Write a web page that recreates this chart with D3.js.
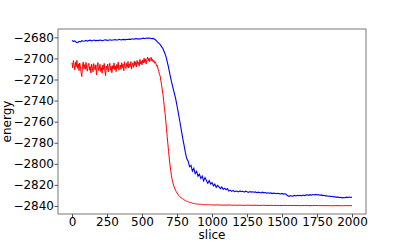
<!DOCTYPE html>
<html>
<head>
<meta charset="utf-8">
<script src="https://cdn.jsdelivr.net/npm/d3@7/dist/d3.min.js"></script>
<style>
  body { margin: 0; background: #fff; }
</style>
</head>
<body>
<div class="chart"></div>
<script>

var blueStep = 10;

var blueEnergy = [
    -2683.0, -2683.9, -2683.4, -2684.6, -2685.1, -2683.8, -2684.3, -2683.2, -2683.7, -2683.5,
    -2682.9, -2683.6, -2683.1, -2682.7, -2683.4, -2683.0, -2682.6, -2683.3, -2682.8, -2683.1,
    -2682.5, -2682.9, -2683.2, -2682.6, -2682.4, -2682.9, -2682.7, -2682.3, -2682.8, -2682.5,
    -2682.4, -2682.1, -2682.7, -2682.3, -2681.9, -2682.5, -2682.2, -2682.0, -2682.4, -2681.8,
    -2682.1, -2681.7, -2681.9, -2681.4, -2681.8, -2681.5, -2681.2, -2681.7, -2681.3, -2681.5,
    -2681.1, -2680.8, -2681.3, -2680.7, -2681.0, -2680.6, -2680.9, -2681.2, -2681.0, -2681.8,
    -2682.7, -2684.3, -2685.6, -2686.9, -2688.8, -2690.9, -2694.2, -2697.6, -2703.1, -2708.8,
    -2715.6, -2721.8, -2727.2, -2732.4, -2737.9, -2744.8, -2752.1, -2759.6, -2767.3, -2775.2,
    -2782.1, -2789.4, -2795.3, -2797.6, -2802.8, -2801.5, -2806.9, -2804.2, -2809.3, -2807.1,
    -2811.7, -2809.8, -2813.9, -2811.6, -2816.2, -2813.1, -2815.8, -2818.4, -2815.9, -2819.2,
    -2817.8, -2820.9, -2819.2, -2822.3, -2820.4, -2821.8, -2823.6, -2821.9, -2824.2, -2823.1,
    -2824.6, -2823.4, -2825.7, -2824.9, -2826.1, -2825.2, -2826.4, -2825.8, -2826.0, -2826.6,
    -2825.7, -2826.4, -2826.1, -2826.9, -2825.9, -2826.5, -2827.1, -2826.3, -2826.8, -2826.5,
    -2827.0, -2826.6, -2827.4, -2826.9, -2827.2, -2827.6, -2826.9, -2827.5, -2827.2, -2827.8,
    -2827.4, -2827.9, -2827.6, -2828.2, -2827.7, -2828.0, -2828.4, -2827.9, -2828.3, -2828.6,
    -2828.1, -2828.7, -2828.4, -2828.9, -2830.3, -2830.8, -2830.1, -2830.7, -2830.4, -2830.0,
    -2830.5, -2829.8, -2830.2, -2829.9, -2830.4, -2829.6, -2830.1, -2829.7, -2829.4, -2829.9,
    -2829.3, -2829.7, -2829.1, -2829.5, -2829.0, -2829.6, -2829.2, -2829.8, -2829.5, -2830.1,
    -2829.8, -2830.4, -2830.3, -2830.7, -2830.5, -2831.2, -2830.8, -2831.4, -2831.3, -2831.8,
    -2831.4, -2832.1, -2831.7, -2832.3, -2831.9, -2832.2, -2831.6, -2832.0, -2831.5, -2831.9,
    -2831.6
];

// Red run, every 5 slices up to 995, then every 20 slices (flat tail)
var redSlices = d3.range(0, 1000, 5).concat(d3.range(1000, 2001, 20));

var redEnergy = [
    -2704.2, -2708.9, -2702.1, -2706.5, -2710.8, -2703.6, -2707.9, -2701.8, -2709.4, -2705.2,
    -2711.6, -2704.3, -2708.1, -2713.4, -2717.2, -2706.8, -2703.5, -2709.7, -2705.9, -2710.3,
    -2703.8, -2709.5, -2712.1, -2706.4, -2704.7, -2711.2, -2707.6, -2713.8, -2705.3, -2709.1,
    -2712.7, -2704.9, -2708.3, -2710.9, -2706.1, -2715.6, -2707.4, -2703.9, -2711.5, -2709.8,
    -2705.6, -2712.4, -2708.7, -2714.1, -2706.3, -2710.5, -2704.8, -2711.9, -2716.4, -2707.2,
    -2710.6, -2705.4, -2712.8, -2708.1, -2704.6, -2711.3, -2707.5, -2713.6, -2706.9, -2709.9,
    -2704.3, -2710.7, -2707.1, -2712.5, -2705.8, -2709.4, -2703.6, -2711.2, -2708.6, -2706.2,
    -2710.4, -2704.1, -2708.8, -2705.5, -2711.7, -2703.2, -2707.9, -2709.6, -2704.7, -2708.3,
    -2702.9, -2709.1, -2705.4, -2707.8, -2703.1, -2710.2, -2706.6, -2704.2, -2708.5, -2702.7,
    -2706.9, -2703.3, -2708.1, -2701.9, -2705.7, -2703.8, -2707.4, -2700.9, -2705.2, -2702.6,
    -2706.1, -2701.4, -2704.3, -2699.8, -2703.9, -2700.6, -2705.2, -2701.1, -2698.7, -2702.4,
    -2699.6, -2703.1, -2700.2, -2698.9, -2702.5, -2700.8, -2703.4, -2701.9, -2704.6, -2703.2,
    -2705.1, -2707.3, -2706.8, -2710.2, -2712.4, -2715.1, -2716.9, -2721.3, -2725.4, -2729.8,
    -2734.6, -2740.2, -2746.9, -2752.4, -2759.3, -2766.8, -2774.1, -2781.2, -2788.5, -2795.4,
    -2801.2, -2806.3, -2810.8, -2814.9, -2817.8, -2820.1, -2821.9, -2823.8, -2825.2, -2826.6,
    -2827.6, -2828.7, -2829.9, -2830.4, -2831.2, -2831.5, -2832.4, -2832.6, -2833.3, -2833.4,
    -2834.2, -2834.6, -2834.8, -2835.3, -2835.6, -2835.7, -2836.2, -2836.1, -2836.6, -2836.7,
    -2837.0, -2836.9, -2837.4, -2837.3, -2837.7, -2837.6, -2838.0, -2837.8, -2838.2, -2838.1,
    -2838.3, -2838.2, -2838.4, -2838.3, -2838.6, -2838.4, -2838.6, -2838.5, -2838.7, -2838.6,
    -2838.8, -2838.7, -2838.8, -2838.7, -2838.9, -2838.8, -2839.0, -2838.8, -2839.0, -2838.9,
    -2839.0, -2839.1, -2838.9, -2839.2, -2839.1, -2839.2, -2839.0, -2839.3, -2839.2, -2839.3,
    -2839.2, -2839.4, -2839.3, -2839.2, -2839.4, -2839.3, -2839.4, -2839.5, -2839.3, -2839.4,
    -2839.5, -2839.4, -2839.5, -2839.4, -2839.6, -2839.5, -2839.4, -2839.6, -2839.5, -2839.6,
    -2839.5, -2839.6, -2839.7, -2839.5, -2839.6, -2839.7, -2839.6, -2839.5, -2839.7, -2839.6,
    -2839.7, -2839.6, -2839.7, -2839.8, -2839.6, -2839.7, -2839.7, -2839.8, -2839.6, -2839.7,
    -2839.7
];

var xTicks = [0, 250, 500, 750, 1000, 1250, 1500, 1750, 2000];
var yTicks = [-2680, -2700, -2720, -2740, -2760, -2780, -2800, -2820, -2840];

var fullWidth = 407, fullHeight = 244;
var margin = { top: 29, right: 41, bottom: 30, left: 58 };
var width = fullWidth - margin.left - margin.right;
var height = fullHeight - margin.top - margin.bottom;
var fontFamily = "'DejaVu Sans', Verdana, sans-serif";
var fontSize = "12px";

var svg = d3.select(".chart")
    .append("svg")
        .attr("width", fullWidth)
        .attr("height", fullHeight)
    .append("g")
        .attr("transform", "translate(" + margin.left + "," + margin.top + ")");

// Matplotlib-like 5% padding around the data
var x = d3.scaleLinear()
    .domain([-100, 2100])
    .range([0, width]);

var y = d3.scaleLinear()
    .domain([-2847.6, -2672.1])
    .range([height, 0]);

var blueLine = d3.line()
    .x(function(d, i) { return x(i * blueStep); })
    .y(function(d) { return y(d); });

var redLine = d3.line()
    .x(function(d, i) { return x(redSlices[i]); })
    .y(function(d) { return y(d); });

svg.append("path")
    .datum(blueEnergy)
    .attr("d", blueLine)
    .style("fill", "none")
    .style("stroke", "#0000ff")
    .style("stroke-width", 1.1);

svg.append("path")
    .datum(redEnergy)
    .attr("d", redLine)
    .style("fill", "none")
    .style("stroke", "#ff0000")
    .style("stroke-width", 1);

// Axes
var xAxis = d3.axisBottom(x)
    .tickValues(xTicks)
    .tickSize(3.5)
    .tickPadding(0)
    .tickFormat(d3.format("d"));

var yAxis = d3.axisLeft(y)
    .tickValues(yTicks)
    .tickSize(3.5)
    .tickPadding(0.5)
    .tickFormat(function(d) { return "\u2212" + Math.abs(d); });

var gx = svg.append("g")
    .attr("transform", "translate(0," + height + ")")
    .call(xAxis);

var gy = svg.append("g")
    .call(yAxis);

[gx, gy].forEach(function(g) {
    g.attr("font-family", null).attr("font-size", null);
    g.select(".domain").remove();
    g.selectAll("line").style("stroke", "#222").style("stroke-width", 0.8);
    g.selectAll("text")
        .style("font-family", fontFamily)
        .style("font-size", fontSize)
        .style("fill", "#000");
});

// Frame
svg.append("rect")
    .attr("width", width)
    .attr("height", height)
    .style("fill", "none")
    .style("stroke", "#555")
    .style("stroke-width", 0.8);

// Labels
svg.append("text")
    .attr("x", width / 2)
    .attr("y", height + 25)
    .attr("text-anchor", "middle")
    .style("font-family", fontFamily)
    .style("font-size", fontSize)
    .text("slice");

svg.append("text")
    .attr("transform", "translate(" + (-margin.left + 10.5) + "," + (height / 2) + ") rotate(-90)")
    .attr("text-anchor", "middle")
    .style("font-family", fontFamily)
    .style("font-size", fontSize)
    .text("energy");

</script>
</body>
</html>
